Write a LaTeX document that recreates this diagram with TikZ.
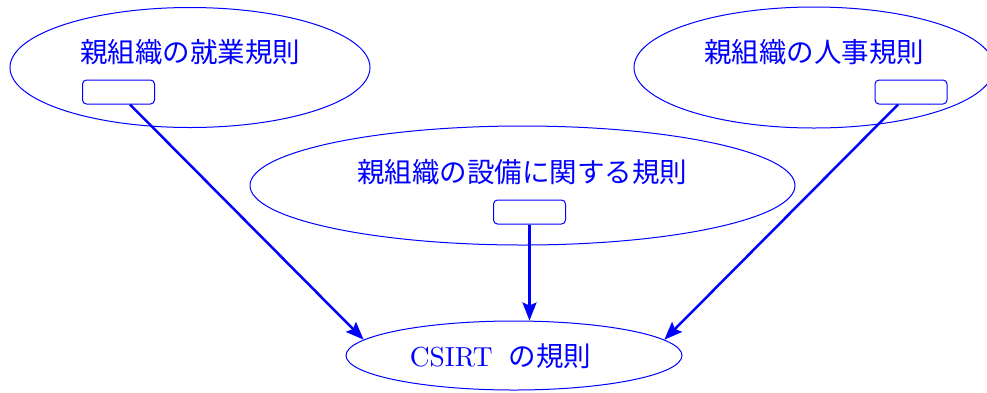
\documentclass[tikz,border=0pt]{standalone}
\usepackage{fontspec}
\newfontfamily\cjk{Noto Sans CJK JP}
\newfontfamily\lmten{lmroman10-regular}[Extension=.otf]
\usetikzlibrary{shapes.geometric,arrows.meta,calc}
\begin{document}
\begin{tikzpicture}[x=1pt,y=-1pt,
  oval/.style={draw=blue, line width=1pt, ellipse, inner sep=0pt},
  tag/.style={draw=blue, line width=1pt, rounded corners=4pt, minimum width=72pt, minimum height=24pt, inner sep=0pt},
  lbl/.style={text=blue, font=\fontsize{27.5}{30}\selectfont\cjk, inner sep=0pt},
  link/.style={draw=blue, line width=2.5pt, -{Stealth[length=18pt,width=14pt,inset=3pt]}}]
\useasboundingbox (0,0) rectangle (987,392);
\node[oval, minimum width=360pt, minimum height=120pt] (e1) at (190,67.5) {};
\node[lbl] (t1) at (190,52) {親組織の就業規則};
\node[tag] (b1) at (118.5,92) {};
\node[oval, minimum width=360pt, minimum height=121pt] (e2) at (814,67.5) {};
\node[lbl] (t2) at (814,52) {親組織の人事規則};
\node[tag] (b2) at (911,92) {};
\node[oval, minimum width=545pt, minimum height=119pt] (e3) at (522.5,185.5) {};
\node[lbl] (t3) at (522,172) {親組織の設備に関する規則};
\node[tag] (b3) at (529.5,212) {};
\node[oval, minimum width=336pt, minimum height=69pt] (e4) at (514,355.5) {};
\node[lbl, font=\fontsize{27.5}{30}\selectfont\lmten] (t4) at (500.5,356) {CSIRT\hspace{16pt}{\cjk の規則}};
\draw[link] ($(b1.south)+(11.5,0)$) -- (e4.174);
\draw[link] ($(b2.south)+(-13,0)$) -- (e4.6);
\draw[link] (b3.south) -- (b3.south |- e4.north);
\end{tikzpicture}
\end{document}
